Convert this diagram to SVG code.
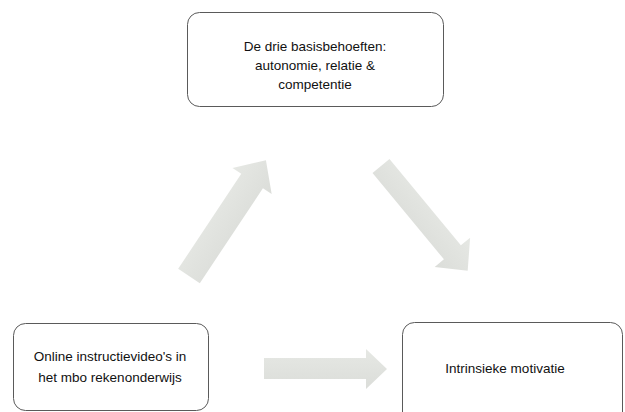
<svg xmlns="http://www.w3.org/2000/svg" width="625" height="412" viewBox="0 0 625 412">
<style>
.box{fill:#ffffff;stroke:#5a5a5a;stroke-width:1}
.lbl{font-family:"Liberation Sans",Arial,sans-serif;font-size:13.5px;fill:#111;text-anchor:middle}
.arr{fill:url(#g)}
</style>
<defs>
<linearGradient id="g" x1="0" y1="0" x2="0" y2="1">
<stop offset="0" stop-color="#e6e8e4"/>
<stop offset="1" stop-color="#dbddd9"/>
</linearGradient>
</defs>
<rect width="625" height="412" fill="#ffffff"/>
<g id="connectors">
<path class="arr" transform="translate(189,276) rotate(-56.4)" d="M0,-13 L114,-13 L114,-23.5 L139,0 L114,23.5 L114,13 L0,13 Z"/>
<path class="arr" transform="translate(381,166) rotate(50.4)" d="M0,-11 L112,-11 L112,-23 L136,0 L112,23 L112,11 L0,11 Z"/>
<path class="arr" d="M264,358 L366,358 L366,349 L387,369 L366,389 L366,379 L264,379 Z"/>
</g>
<g id="node-basisbehoeften">
<rect class="box" x="187.5" y="12.5" width="256" height="94" rx="12"/>
<text class="lbl" x="315" y="51">De drie basisbehoeften:</text>
<text class="lbl" x="315" y="70">autonomie, relatie &amp;</text>
<text class="lbl" x="315" y="89">competentie</text>
</g>
<g id="node-video">
<rect class="box" x="13.5" y="323.5" width="195" height="87" rx="12"/>
<text class="lbl" x="110" y="361">Online instructievideo's in</text>
<text class="lbl" x="110" y="382">het mbo rekenonderwijs</text>
</g>
<g id="node-motivatie">
<rect class="box" x="402.5" y="322.5" width="220" height="110" rx="12"/>
<text class="lbl" x="505" y="373">Intrinsieke motivatie</text>
</g>
</svg>
